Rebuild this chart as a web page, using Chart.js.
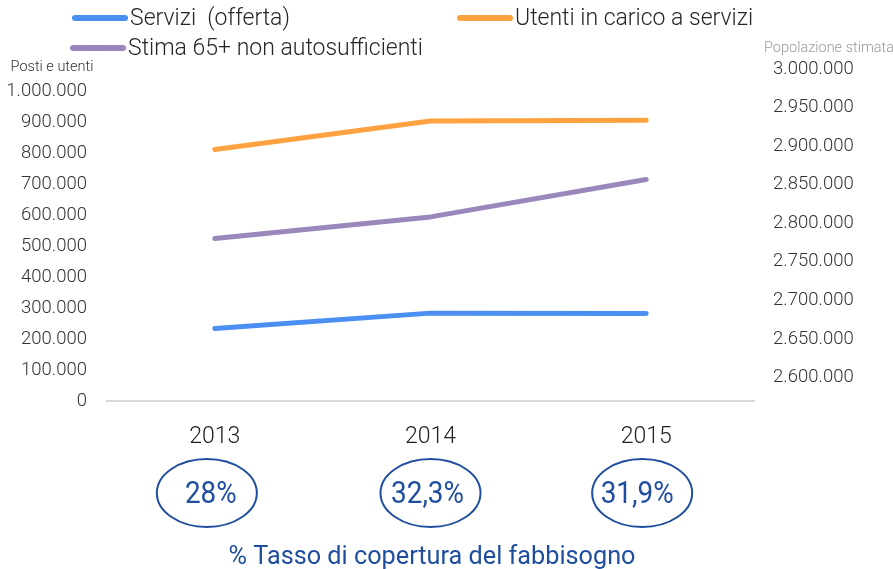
<!DOCTYPE html>
<html>
<head>
<meta charset="utf-8">
<script src="https://cdn.jsdelivr.net/npm/chart.js@4"></script>
<style>
  html, body { margin: 0; padding: 0; background: #fff; }
  #wrap { width: 893px; height: 569px; position: relative; }
</style>
</head>
<body>
<div id="wrap"><canvas id="chart"></canvas></div>
<script>
const categories = ['2013', '2014', '2015']
const servizi = [234000, 284000, 283000]
const utenti = [813000, 905000, 907000]
const stima = [525000, 595000, 716000]
const coverage = ['28%', '32,3%', '31,9%']
const leftTicks = [0, 100000, 200000, 300000, 400000, 500000, 600000, 700000, 800000, 900000, 1000000]
const rightTicks = [2600000, 2650000, 2700000, 2750000, 2800000, 2850000, 2900000, 2950000, 3000000]

const BLUE = '#4b8ff2'
const ORANGE = '#ffa23f'
const PURPLE = '#9a88bc'
const DARK_BLUE = '#1f4e9f'
const fmt = v => v.toLocaleString('de-DE')

// legend drawn by hand: the original has two columns with a wide gap
const legendSpots = [
  { x: 72, y: 18 },
  { x: 457, y: 18 },
  { x: 70, y: 48 },
]
// the circles in the original are not quite centred on the years
const circleNudge = [-8, 0, -4]
const textNudge = [-4, -3, -9]

const extras = {
  id: 'extras',
  afterDraw(chart) {
    const { ctx, scales } = chart
    ctx.save()

    // legend
    ctx.font = '300 23px Roboto'
    ctx.textBaseline = 'middle'
    chart.data.datasets.forEach((ds, i) => {
      const p = legendSpots[i]
      ctx.strokeStyle = ds.borderColor
      ctx.lineWidth = 6
      ctx.lineCap = 'round'
      ctx.beginPath()
      ctx.moveTo(p.x + 3, p.y)
      ctx.lineTo(p.x + 53, p.y)
      ctx.stroke()
      ctx.fillStyle = '#262626'
      ctx.textAlign = 'left'
      ctx.fillText(ds.label, p.x + 58, p.y + 1)
    })

    // axis titles
    ctx.font = '300 14.5px Roboto'
    ctx.fillStyle = '#333'
    ctx.textAlign = 'center'
    ctx.fillText('Posti e utenti', 52, 67)
    ctx.fillStyle = '#999'
    ctx.fillText('Popolazione stimata', 829, 48)

    // coverage circles
    categories.forEach((c, i) => {
      const x = scales.x.getPixelForValue(i)
      const y = 493
      ctx.strokeStyle = DARK_BLUE
      ctx.lineWidth = 2
      ctx.beginPath()
      ctx.ellipse(x + circleNudge[i], y, 50, 34, 0, 0, Math.PI * 2)
      ctx.stroke()
      ctx.save()
      ctx.fillStyle = DARK_BLUE
      ctx.font = '400 31px Roboto'
      ctx.textAlign = 'center'
      ctx.translate(x + textNudge[i], y + 2)
      ctx.scale(0.9, 1)
      ctx.fillText(coverage[i], 0, 0)
      ctx.restore()
    })

    // bottom caption
    ctx.font = '400 25px Roboto'
    ctx.fillStyle = DARK_BLUE
    ctx.textAlign = 'center'
    ctx.textBaseline = 'alphabetic'
    const caption = '% Tasso di copertura del fabbisogno'
    const w = ctx.measureText(caption).width
    ctx.translate(432, 564)
    ctx.scale(407 / w, 1)
    ctx.fillText(caption, 0, 0)

    ctx.restore()
  }
}

const ctx = document.getElementById('chart').getContext('2d')
new Chart(ctx, {
  type: 'line',
  data: {
    labels: categories,
    datasets: [
      { label: 'Servizi  (offerta)', data: servizi, borderColor: BLUE, yAxisID: 'y' },
      { label: 'Utenti in carico a servizi', data: utenti, borderColor: ORANGE, yAxisID: 'y' },
      { label: 'Stima 65+ non autosufficienti', data: stima, borderColor: PURPLE, yAxisID: 'y' },
    ],
  },
  options: {
    responsive: true,
    maintainAspectRatio: false,
    animation: false,
    layout: { padding: { top: 69, left: 0, right: 0, bottom: 0 } },
    elements: {
      line: { borderWidth: 5, borderCapStyle: 'round', borderJoinStyle: 'round', tension: 0 },
      point: { radius: 0 },
    },
    plugins: {
      legend: { display: false },
      tooltip: { enabled: false },
    },
    scales: {
      x: {
        offset: true,
        grid: { display: false, drawTicks: false },
        border: { display: true, color: '#d9d9d9', width: 2 },
        ticks: { color: '#222', font: { family: 'Roboto', weight: '300', size: 23 }, padding: 22 },
        afterFit: scale => { scale.height = 168 },
      },
      y: {
        position: 'left',
        min: 0,
        max: 1073000,
        grid: { display: false, drawTicks: false },
        border: { display: false },
        afterBuildTicks: scale => { scale.ticks = leftTicks.map(v => ({ value: v })) },
        afterFit: scale => { scale.width = 107 },
        ticks: {
          color: '#333',
          padding: 20,
          font: { family: 'Roboto', weight: '300', size: 18.5 },
          callback: v => fmt(v),
        },
      },
      y2: {
        position: 'right',
        min: 2569500,
        max: 3000000,
        grid: { display: false, drawTicks: false },
        border: { display: false },
        afterBuildTicks: scale => { scale.ticks = rightTicks.map(v => ({ value: v })) },
        afterFit: scale => { scale.width = 139 },
        ticks: {
          color: '#333',
          padding: 19,
          font: { family: 'Roboto', weight: '300', size: 18.5 },
          callback: v => fmt(v),
        },
      },
    },
  },
  plugins: [extras],
})
</script>
</body>
</html>
